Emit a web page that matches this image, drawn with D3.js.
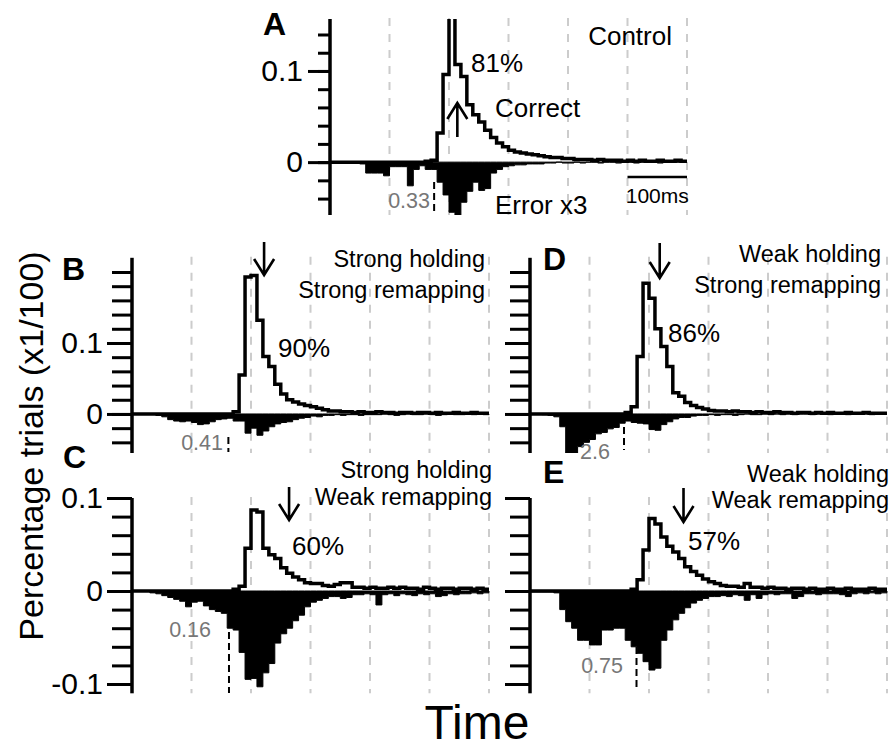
<!DOCTYPE html>
<html>
<head>
<meta charset="utf-8">
<script src="https://cdn.jsdelivr.net/npm/d3@7"></script>
<style>
  body { margin: 0; background: #fff; }
  svg { display: block; }
  text { font-family: "Liberation Sans", Arial, Helvetica, sans-serif; }
</style>
</head>
<body>
<script>
// 10 ms bins, 0..600 ms
var binStarts = d3.range(60).map(function (i) { return i * 10; });
var gridTimes = [100, 200, 300, 400, 500, 600];

// fraction of trials per bin (x1/100); error histograms already multiplied by 3
var correctA = [0,0,0,0,0,0,0,0,0,0, 0,0,0,0,0,0,0.001,0.002,0.032,0.096,
  0.21,0.107,0.094,0.063,0.052,0.044,0.035,0.027,0.021,0.017,
  0.013,0.011,0.010,0.009,0.008,0.007,0.006,0.005,0.005,0.004,
  0.004,0.003,0.003,0.003,0.002,0.003,0.002,0.002,0.002,0.001,
  0.002,0.001,0.002,0.001,0.001,0.002,0.001,0.001,0.002,0.001];
var errorA = [0,0,0,0,0,-0.002,-0.012,-0.012,-0.012,-0.015,
  -0.005,-0.005,-0.005,-0.026,-0.008,-0.004,-0.008,-0.008,-0.022,-0.036,
  -0.055,-0.06,-0.044,-0.032,-0.022,-0.031,-0.029,-0.012,-0.008,-0.005,
  -0.004,-0.003,-0.003,-0.002,-0.002,-0.002,-0.001,-0.001,0,-0.001,
  -0.001,0,-0.001,0,0,-0.001,0,0,-0.001,0,
  0,-0.001,0,0,0,-0.001,0,0,0,0];

var correctB = [0,0,0,0,0,0,0,0,0,0, 0,0,0,0,0,0,0,0.003,0.055,0.193,
  0.195,0.132,0.081,0.067,0.042,0.028,0.020,0.017,0.014,0.012,
  0.010,0.008,0.006,0.004,0.004,0.003,0.003,0.002,0.003,0.002,
  0.002,0.003,0.002,0.002,0.001,0.002,0.002,0.001,0.002,0.002,
  0.001,0.002,0.001,0.001,0.002,0.001,0.001,0.002,0.001,0.001];
var errorB = [0,0,0,0,-0.002,-0.004,-0.008,-0.010,-0.011,-0.010,
  -0.012,-0.015,-0.014,-0.011,-0.008,-0.007,-0.006,-0.010,-0.010,-0.027,
  -0.020,-0.030,-0.024,-0.018,-0.014,-0.012,-0.011,-0.008,-0.006,-0.005,
  -0.003,-0.004,-0.002,-0.002,-0.001,-0.002,-0.001,-0.001,-0.002,-0.001,
  -0.001,-0.001,0,-0.001,-0.002,-0.001,0,-0.001,-0.001,0,
  -0.001,-0.002,-0.001,0,-0.001,-0.001,0,-0.001,0,-0.001];

var correctC = [0,0,0,0,0,0,0,0,0,0, 0,0,0,0,0,0,0,0.002,0.005,0.046,
  0.087,0.085,0.046,0.039,0.035,0.025,0.019,0.015,0.012,0.009,
  0.008,0.008,0.006,0.005,0.007,0.009,0.009,0.004,0.004,0.003,
  0.004,0.003,0.003,0.004,0.003,0.004,0.003,0.003,0.002,0.004,
  0.003,0.002,0.003,0.003,0.002,0.003,0.003,0.002,0.003,0.002];
var errorC = [0,0,0,-0.002,-0.003,-0.005,-0.007,-0.009,-0.011,-0.017,
  -0.012,-0.011,-0.016,-0.020,-0.022,-0.024,-0.040,-0.042,-0.066,-0.095,
  -0.094,-0.103,-0.088,-0.078,-0.056,-0.046,-0.040,-0.032,-0.026,-0.017,
  -0.012,-0.010,-0.008,-0.006,-0.006,-0.008,-0.007,-0.004,-0.004,-0.003,
  -0.004,-0.015,-0.004,-0.003,-0.005,-0.003,-0.004,-0.005,-0.003,-0.004,
  -0.003,-0.006,-0.005,-0.003,-0.004,-0.003,-0.003,-0.002,-0.003,-0.002];

var correctD = [0,0,0,0,0,0,0,0,0,0, 0,0,0,0,0,0,0.002,0.010,0.081,0.184,
  0.163,0.120,0.095,0.067,0.030,0.025,0.016,0.012,0.009,0.007,
  0.005,0.004,0.004,0.003,0.004,0.003,0.003,0.002,0.003,0.002,
  0.002,0.003,0.002,0.002,0.001,0.002,0.002,0.001,0.002,0.001,
  0.002,0.001,0.001,0.002,0.001,0.001,0.002,0.001,0.001,0.001];
var errorD = [0,0,-0.001,-0.002,-0.004,-0.018,-0.055,-0.055,-0.046,-0.040,
  -0.036,-0.028,-0.026,-0.021,-0.019,-0.013,-0.010,-0.012,-0.013,-0.014,
  -0.022,-0.023,-0.015,-0.011,-0.007,-0.005,-0.005,-0.003,-0.002,-0.002,
  -0.001,-0.002,-0.001,-0.001,-0.002,-0.001,0,-0.001,-0.001,0,
  -0.001,0,-0.001,0,-0.001,0,0,-0.001,0,0,
  -0.001,0,0,-0.001,0,0,0,-0.001,0,0];

var correctE = [0,0,0,0,0,0,0,0,0,0, 0,0,0,0,0,0,0,0.002,0.012,0.044,
  0.078,0.072,0.058,0.048,0.042,0.035,0.026,0.021,0.017,0.013,
  0.010,0.008,0.006,0.005,0.005,0.004,0.008,0.004,0.004,0.003,
  0.004,0.003,0.003,0.002,0.003,0.003,0.002,0.003,0.002,0.002,
  0.003,0.002,0.002,0.003,0.002,0.002,0.002,0.003,0.002,0.002];
var errorE = [-0.001,-0.001,-0.001,-0.001,-0.002,-0.020,-0.033,-0.040,-0.053,-0.053,
  -0.058,-0.058,-0.042,-0.042,-0.040,-0.040,-0.053,-0.060,-0.067,-0.076,
  -0.085,-0.083,-0.053,-0.042,-0.031,-0.024,-0.018,-0.013,-0.010,-0.008,
  -0.006,-0.006,-0.005,-0.006,-0.004,-0.005,-0.010,-0.004,-0.008,-0.004,
  -0.003,-0.004,-0.003,-0.003,-0.008,-0.006,-0.003,-0.003,-0.004,-0.003,
  -0.003,-0.003,-0.004,-0.006,-0.003,-0.002,-0.003,-0.002,-0.003,-0.002];

var percents = ['81%', '90%', '60%', '86%', '57%'];
var markerTimes = [175, 162, 163, 158, 179];
var markerLabels = ['0.33', '0.41', '0.16', '2.6', '0.75'];
var arrowTimes = [214, 222, 264, 218, 258];
var conditions = [
  ['Control'],
  ['Strong holding', 'Strong remapping'],
  ['Strong holding', 'Weak remapping'],
  ['Weak holding', 'Strong remapping'],
  ['Weak holding', 'Weak remapping']
];

var W = 895, H = 751;
var svg = d3.select('body').append('svg').attr('width', W).attr('height', H);
var defs = svg.append('defs');

var panels = [
  { id: 'A', correct: correctA, error: errorA, xr: [330, 687], yd: [-0.058, 0.157], yr: [215, 19],
    ticks: d3.range(-2, 8), labels: true, minor: 12, major: 22, pad: 5,
    letter: [263, 35], condX: 672, condY: [45], condSize: 26, pct: [471, 72],
    arrow: [137, 103], mark: [182, 213], markLab: [430, 208] },
  { id: 'B', correct: correctB, error: errorB, xr: [132, 489], yd: [-0.055, 0.22], yr: [453, 257.8],
    ticks: d3.range(-2, 11), labels: true, minor: 20, major: 25, pad: 4,
    letter: [62, 280], condX: 485, condY: [267, 298], condSize: 23.5, pct: [278, 357],
    arrow: [242, 275], mark: [437, 452], markLab: [223, 450] },
  { id: 'C', correct: correctC, error: errorC, xr: [132, 489], yd: [-0.11, 0.1], yr: [693.3, 498],
    ticks: d3.range(-5, 6), labels: true, minor: 20, major: 25, pad: 4,
    letter: [63, 468], condX: 492, condY: [478, 505], condSize: 23.5, pct: [292, 555],
    arrow: [487, 520], mark: [632, 693], markLab: [211, 637] },
  { id: 'D', correct: correctD, error: errorD, xr: [530, 887], yd: [-0.055, 0.22], yr: [453, 257.8],
    ticks: d3.range(-2, 11), labels: false, minor: 20, major: 25, pad: 4,
    letter: [543, 270], condX: 881, condY: [262, 293], condSize: 23.5, pct: [668, 342],
    arrow: [243, 278], mark: [427, 450], markLab: [610, 459] },
  { id: 'E', correct: correctE, error: errorE, xr: [530, 887], yd: [-0.11, 0.1], yr: [693.3, 498],
    ticks: d3.range(-5, 6), labels: false, minor: 20, major: 25, pad: 4,
    letter: [543, 483], condX: 889, condY: [482, 508], condSize: 23.5, pct: [688, 550],
    arrow: [488, 522], mark: [647, 690], markLab: [623, 673] }
];

function stepPoints(vals) {
  var pts = vals.map(function (v, i) { return [binStarts[i], v]; });
  pts.push([600, vals[vals.length - 1]]);
  return pts;
}

function fmt(v) { return String(+v.toFixed(2)); }

function drawArrow(g, x0, yTail, yHead) {
  var dir = yHead > yTail ? 1 : -1;
  g.append('path')
    .attr('d', 'M' + x0 + ',' + yTail + 'L' + x0 + ',' + yHead +
      'M' + (x0 - 10) + ',' + (yHead - dir * 16) + 'L' + x0 + ',' + yHead + 'L' + (x0 + 10) + ',' + (yHead - dir * 16))
    .attr('fill', 'none').attr('stroke', '#000').attr('stroke-width', 2.6);
}

panels.forEach(function (p, k) {
  var x = d3.scaleLinear().domain([0, 600]).range(p.xr);
  var y = d3.scaleLinear().domain(p.yd).range(p.yr);
  var g = svg.append('g');
  var top = p.yr[1], bottom = p.yr[0];

  defs.append('clipPath').attr('id', 'clip' + p.id).append('rect')
    .attr('x', p.xr[0] - 2).attr('y', top).attr('width', p.xr[1] - p.xr[0] + 6).attr('height', bottom - top);

  g.selectAll('line.grid').data(gridTimes).enter().append('line')
    .attr('class', 'grid')
    .attr('x1', function (d) { return x(d); }).attr('x2', function (d) { return x(d); })
    .attr('y1', top - 1).attr('y2', bottom)
    .attr('stroke', '#cccccc').attr('stroke-width', 2).attr('stroke-dasharray', '8,8');

  var plot = g.append('g').attr('clip-path', 'url(#clip' + p.id + ')');

  var area = d3.area().curve(d3.curveStepAfter)
    .x(function (d) { return x(d[0]); }).y0(y(0)).y1(function (d) { return y(d[1]); });
  plot.append('path').datum(stepPoints(p.error)).attr('d', area)
    .attr('fill', '#000').attr('stroke', '#000').attr('stroke-width', 1);

  var line = d3.line().curve(d3.curveStepAfter)
    .x(function (d) { return x(d[0]); }).y(function (d) { return y(d[1]); });
  plot.append('path').datum(stepPoints(p.correct)).attr('d', line)
    .attr('fill', 'none').attr('stroke', '#000').attr('stroke-width', 3.5);

  // y axis: minor ticks every 0.02, long ticks at 0 and +-0.1
  var tickVals = p.ticks.map(function (t) { return t * 0.02; });
  var majorVals = p.ticks.filter(function (t) { return t % 5 === 0 && Math.abs(t) <= 5; })
    .map(function (t) { return t * 0.02; });
  var minorAxis = g.append('g').attr('transform', 'translate(' + p.xr[0] + ',0)')
    .call(d3.axisLeft(y).tickValues(tickVals).tickSize(p.minor).tickSizeOuter(0).tickFormat(''));
  minorAxis.select('.domain').attr('stroke-width', 3.5).attr('d', 'M0,' + top + 'V' + bottom);
  minorAxis.selectAll('.tick line').attr('stroke-width', 3);

  var majorAxis = g.append('g').attr('transform', 'translate(' + p.xr[0] + ',0)')
    .call(d3.axisLeft(y).tickValues(majorVals).tickSize(p.major).tickPadding(p.pad)
      .tickFormat(p.labels ? fmt : function () { return ''; }));
  majorAxis.select('.domain').remove();
  majorAxis.selectAll('.tick line').attr('stroke-width', 3);
  majorAxis.selectAll('text').attr('font-size', 30).attr('fill', '#000')
    .attr('font-family', '"Liberation Sans", Arial, sans-serif');

  // annotations
  g.append('text').attr('x', p.letter[0]).attr('y', p.letter[1])
    .attr('font-size', 32).attr('font-weight', 'bold').text(p.id);

  g.selectAll('text.cond').data(conditions[k]).enter().append('text')
    .attr('class', 'cond').attr('x', p.condX)
    .attr('y', function (d, i) { return p.condY[i]; })
    .attr('text-anchor', 'end').attr('font-size', p.condSize).text(function (d) { return d; });

  g.append('text').attr('x', p.pct[0]).attr('y', p.pct[1]).attr('font-size', 26).text(percents[k]);

  drawArrow(g, x(arrowTimes[k]), p.arrow[0], p.arrow[1]);

  g.append('line').attr('x1', x(markerTimes[k])).attr('x2', x(markerTimes[k]))
    .attr('y1', p.mark[0]).attr('y2', p.mark[1])
    .attr('stroke', '#000').attr('stroke-width', 2).attr('stroke-dasharray', '7,4');
  g.append('text').attr('x', p.markLab[0]).attr('y', p.markLab[1])
    .attr('text-anchor', 'end').attr('font-size', 21.5).attr('fill', '#777').text(markerLabels[k]);

  if (p.id === 'A') {
    g.append('text').attr('x', 495).attr('y', 117).attr('font-size', 26).text('Correct');
    g.append('text').attr('x', 495).attr('y', 214).attr('font-size', 26).text('Error x3');
    g.append('line').attr('x1', x(500)).attr('x2', x(600)).attr('y1', 177).attr('y2', 177)
      .attr('stroke', '#000').attr('stroke-width', 2.5);
    g.append('text').attr('x', x(550)).attr('y', 203).attr('text-anchor', 'middle')
      .attr('font-size', 21).text('100ms');
  }
});

svg.append('text').attr('transform', 'translate(43,446) rotate(-90)')
  .attr('text-anchor', 'middle').attr('font-size', 34).text('Percentage trials (x1/100)');
svg.append('text').attr('x', 477).attr('y', 739)
  .attr('text-anchor', 'middle').attr('font-size', 48).text('Time');
</script>
</body>
</html>
